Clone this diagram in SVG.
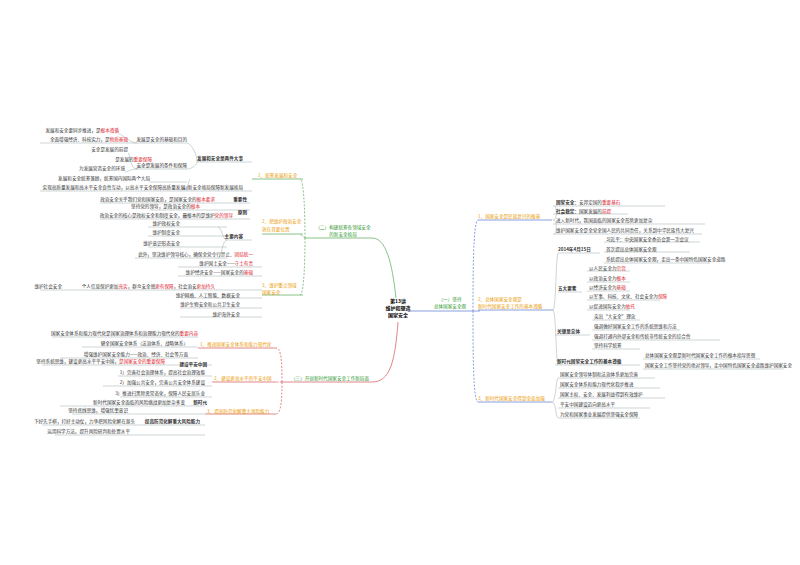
<svg xmlns="http://www.w3.org/2000/svg" width="800" height="565" viewBox="0 0 800 565">
<style>
text{font-family:"Noto Sans CJK SC","Noto Sans",sans-serif;font-size:4.6px;fill:#333}
.o{fill:#eb9a00}.c{font-weight:bold;fill:#000;font-size:5px}.r{fill:#e0202a}.b{font-weight:bold}
.e{text-anchor:end}.m{text-anchor:middle}.gt{fill:#2f9a2f}
.g{stroke:#6bb36b;fill:none;stroke-width:0.8}.bl{stroke:#6d87d8;fill:none;stroke-width:0.8}.rd{stroke:#d9676b;fill:none;stroke-width:0.8}
.u{stroke:#9aa;fill:none;stroke-width:0.5}.d{stroke-dasharray:2,1.5}
</style>
<rect width="800" height="565" fill="#fff"/>
<g id="connectors">
<path class="g" d="M396,298 C392,262 386,238 372,238 L305,238"/>
<path class="g d" d="M305,238 C305,215 304,179 300,179 M305,238 C305,260 304,295 300,295 M305,238 L300,234"/>
<path class="g" d="M252,179 H303 M262,234 H303 M262,295 H303"/>
<path class="bl" d="M408,311 H480"/>
<path class="bl d" d="M473,311 C473,280 473,220 478,220 M473,311 C473,350 473,402 478,402"/>
<path class="bl" d="M478,220 H552 M478,310 H553 M478,402 H552"/>
<path class="rd" d="M398,322 C395,362 390,382 372,382 L282,382"/>
<path class="rd d" d="M282,382 C282,360 281,348 276,348 M282,382 C282,400 281,414 276,414 M282,382 H276"/>
<path class="rd" d="M198,348 H276 M212,382 H276 M205,414 H276"/>
<path class="u" d="M197,162 H252 M197,162 C197,152 190,143 187,143 M197,162 C197,166 190,169 187,169 M187,191 H252 M187,191 C187,186 190,179 190,179
M137,143 H187 M137,143 C130,143 122,134 119,134 M137,143 H40 M137,169 H187 M137,169 C130,169 130,153 128,153 M137,169 C130,169 155,163 152,163 M137,169 C130,169 128,172 125,172
M150,182 H187 M40,191 H187 M100,203 H250 M150,210 H250 M100,219 H250 M227,240 H252 M148,227 H227 M148,236 H227 M148,247 H227 M135,258 H227
M178,267 H262 M178,276 H262 M40,290 H262 M180,298 H262 M180,308 H262 M180,317 H262 M227,240 C222,240 222,227 218,227 M227,240 C222,240 222,258 218,258
M52,337 H198 M82,347 H198 M60,358 H198 M42,365 H212 M118,376 H212 M103,386 H212 M120,397 H212 M60,406 H205 M72,414 H205 M42,425 H205 M55,435 H205
M553,206 H665 M553,214 H628 M553,224 H705 M553,234 H702 M553,220 C558,220 556,206 555,206 M553,220 C558,220 556,234 555,234
M558,253 H600 M604,242 H700 M604,252 H690 M604,263 H710 M553,310 C556,310 556,253 558,253 M553,310 C556,310 556,365 558,365
M558,292 H582 M587,271 H630 M587,282 H630 M587,291 H630 M587,300 H660 M587,310 H630
M555,335 H590 M592,320 H640 M592,330 H680 M592,340 H720 M592,349 H640 M555,365 H640 M643,359 H760 M643,369 H783
M558,378 H655 M558,388 H660 M558,398 H665 M558,408 H650 M558,418 H640 M552,402 C556,402 556,378 558,378 M552,402 C556,402 556,418 558,418"/>
</g>
<g id="center"><text class="c m" x="398" y="303">第13讲</text><text class="c m" x="398" y="310">维护和塑造</text><text class="c m" x="398" y="317">国家安全</text></g>
<g id="b1"><text x="450" y="301" class="m gt">（一）坚持</text><text x="450" y="308" class="m gt">总体国家安全观</text></g>
<g id="b2"><text x="343" y="229" class="m gt">（二）构建统筹各领域安全</text><text x="343" y="236" class="m gt">的新安全格局</text></g>
<g id="b3"><text x="330" y="380" class="m gt">（三）开创新时代国家安全工作新局面</text></g>
<g id="r1"><text class="o" x="478" y="218">1、国家安全是民族复兴的根基</text>
<text x="556" y="204"><tspan class="b">国家安全</tspan>：安邦定国的<tspan class="r">重要基石</tspan></text>
<text x="556" y="213"><tspan class="b">社会稳定</tspan>：国家发展的<tspan class="r">前提</tspan></text>
<text x="556" y="222">进入新时代，我国面临的国家安全形势更加复杂</text>
<text x="556" y="232">维护国家安全是全党全国人民的共同责任，关系到中华民族伟大复兴</text></g>
<g id="r2"><text class="o" x="478" y="301">2、总体国家安全观是</text><text class="o" x="478" y="308">新时代国家安全工作的基本遵循</text>
<text x="558" y="251" class="b">2014年4月15日</text>
<text x="606" y="241">习近平：中央国家安全委员会第一次会议</text>
<text x="606" y="251">首次提出总体国家安全观</text>
<text x="606" y="261">系统提出总体国家安全观，走出一条中国特色国家安全道路</text>
<text x="558" y="290" class="b">五大要素</text>
<text x="589" y="270">以人民安全为<tspan class="r">宗旨</tspan></text>
<text x="589" y="280">以政治安全为<tspan class="r">根本</tspan></text>
<text x="589" y="289">以经济安全为<tspan class="r">基础</tspan></text>
<text x="589" y="298">以军事、科技、文化、社会安全为<tspan class="r">保障</tspan></text>
<text x="589" y="308">以促进国际安全为<tspan class="r">依托</tspan></text>
<text x="557" y="333" class="b">关键是总体</text>
<text x="594" y="318">突出“大安全”理念</text>
<text x="594" y="328">强调做好国家安全工作的系统思维和方法</text>
<text x="594" y="338">强调打通内外部安全和传统非传统安全的综合性</text>
<text x="594" y="347">坚持科学统筹</text>
<text x="557" y="363" class="b">新时代国家安全工作的基本遵循</text>
<text x="645" y="357">总体国家安全观是新时代国家安全工作的根本指导思想</text>
<text x="645" y="367">国家安全工作坚持党的绝对领导，走中国特色国家安全道路维护国家安全</text></g>
<g id="r3"><text class="o" x="478" y="400">3、新时代国家安全得到全面加强</text>
<text x="560" y="376">国家安全领导体制和法治体系更加完善</text>
<text x="560" y="386">国家安全体系和能力现代化稳步推进</text>
<text x="560" y="396">国家主权、安全、发展利益得到有效维护</text>
<text x="560" y="406">平安中国建设迈向更高水平</text>
<text x="560" y="416">为党和国家事业发展提供坚强安全保障</text></g>
<g id="l1"><text class="o" x="258" y="177">1、统筹发展和安全</text>
<text class="e b" x="243" y="160">发展和安全是两件大事</text>
<text class="e" x="187" y="141">发展是安全的基础和目的</text>
<text class="e" x="119" y="132">发展和安全要同步推进，是<tspan class="r">根本遵循</tspan></text>
<text class="e" x="128" y="141">全面增强经济、科技实力，是<tspan class="r">物质基础</tspan></text>
<text class="e" x="187" y="167">安全是发展的条件和保障</text>
<text class="e" x="128" y="151">安全是发展的前提</text>
<text class="e" x="152" y="161">是发展的<tspan class="r">重要保障</tspan></text>
<text class="e" x="125" y="170">为发展营造安全的环境</text>
<text class="e" x="243" y="189">以新安全格局保障新发展格局</text>
<text class="e" x="150" y="180">发展和安全统筹兼顾，统筹国内国际两个大局</text>
<text class="e" x="185" y="189">实现高质量发展和高水平安全良性互动，以高水平安全保障高质量发展</text></g>
<g id="l2"><text class="o" x="262" y="223">2、把维护政治安全</text><text class="o" x="262" y="231">放在首要位置</text>
<text class="e b" x="247" y="201">重要性</text>
<text class="e" x="215" y="201">政治安全关乎我们党和国家安危，是国家安全的<tspan class="r">根本要求</tspan></text>
<text class="e b" x="247" y="214">原则</text>
<text class="e" x="200" y="208">坚持党的领导，是政治安全的<tspan class="r">根本</tspan></text>
<text class="e" x="233" y="217">政治安全的核心是政权安全和制度安全，最根本的是维护<tspan class="r">党的领导</tspan></text>
<text class="e b" x="243" y="238">主要内容</text>
<text class="e" x="180" y="225">维护政权安全</text>
<text class="e" x="180" y="234">维护制度安全</text>
<text class="e" x="180" y="245">维护意识形态安全</text>
<text class="e" x="253" y="256">此外，坚决维护领导核心，确保全党令行禁止、<tspan class="r">团结统一</tspan></text></g>
<g id="l3"><text class="o" x="262" y="287">3、维护重点领域</text><text class="o" x="262" y="294">国家安全</text>
<text class="e" x="253" y="265">维护国土安全——<tspan class="r">守土有责</tspan></text>
<text class="e" x="253" y="274">维护经济安全——国家安全的<tspan class="r">基础</tspan></text>
<text class="e" x="215" y="288">个人信息保护更加<tspan class="r">充实</tspan>，群众安全感<tspan class="r">更有保障</tspan>，社会治安<tspan class="r">更加持久</tspan></text>
<text class="e" x="62" y="288">维护社会安全</text>
<text class="e" x="240" y="297">维护网络、人工智能、数据安全</text>
<text class="e" x="240" y="306">维护生物安全和公共卫生安全</text>
<text class="e" x="240" y="316">维护海外安全</text></g>
<g id="l4"><text class="o" x="200" y="346">1、推进国家安全体系和能力现代化</text>
<text class="e" x="198" y="335">国家安全体系和能力现代化是国家治理体系和治理能力现代化的<tspan class="r">重要内容</tspan></text>
<text class="e" x="188" y="345">健全国家安全体系（法治体系、战略体系）</text>
<text class="e" x="188" y="356">增强维护国家安全能力——政治、经济、社会等方面</text></g>
<g id="l5"><text class="o" x="214" y="380">2、建设更高水平的平安中国</text>
<text class="e b" x="207" y="366">建设平安中国</text>
<text class="e" x="165" y="363">坚持系统思维，建设更高水平平安中国，<tspan class="r">是国家安全的重要保障</tspan></text>
<text class="e" x="205" y="374">1）完善社会治理体系，提高社会治理效能</text>
<text class="e" x="205" y="384">2）加强公共安全，完善公共安全体系建设</text>
<text class="e" x="205" y="395">3）推进扫黑除恶常态化，保障人民安居乐业</text></g>
<g id="l6"><text class="o" x="207" y="413">3、提高防范化解重大风险能力</text>
<text class="e b" x="207" y="404">新时代</text>
<text class="e" x="185" y="404">新时代国家安全面临的风险挑战更加复杂多变</text>
<text class="e b" x="200" y="423">提高防范化解重大风险能力</text>
<text class="e" x="128" y="412">坚持底线思维，增强忧患意识</text>
<text class="e" x="135" y="423">下好先手棋，打好主动仗，力争把风险化解在源头</text>
<text class="e" x="130" y="433">运用科学方法，提升风险研判和处置水平</text></g>
</svg>
